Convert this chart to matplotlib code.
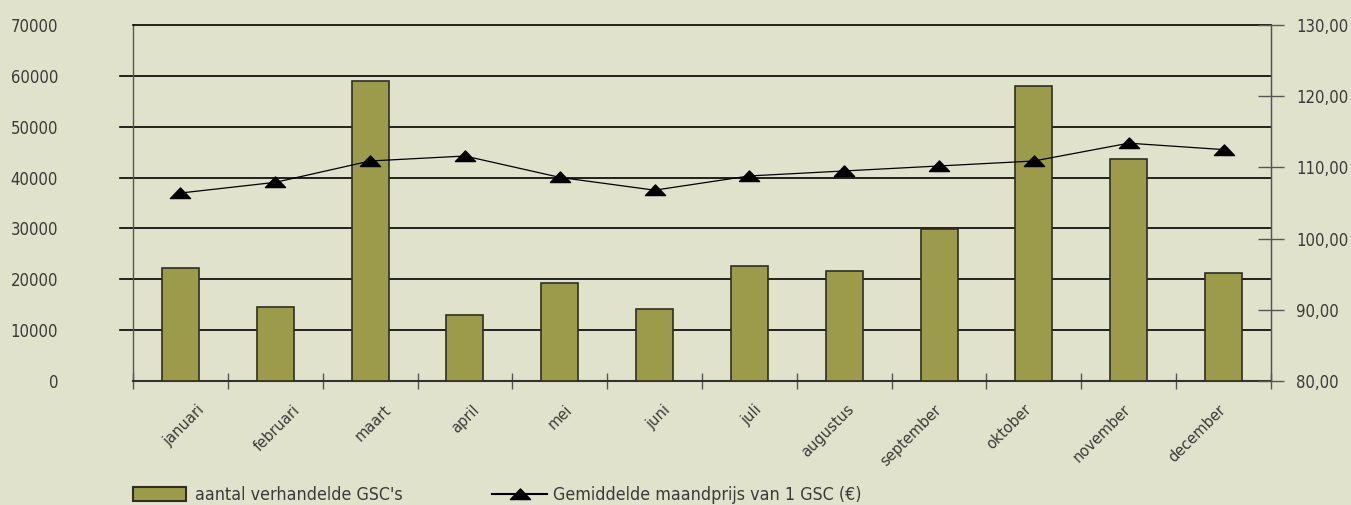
import matplotlib
matplotlib.use('Agg')
import matplotlib.pyplot as plt
import numpy as np
from matplotlib.path import Path
from matplotlib.patches import Patch
from matplotlib.lines import Line2D
from matplotlib.transforms import ScaledTranslation

months = ['januari', 'februari', 'maart', 'april', 'mei', 'juni', 'juli',
          'augustus', 'september', 'oktober', 'november', 'december']
volumes = [22300, 14500, 58900, 13000, 19300, 14150, 22600, 21600, 29800, 58100, 43600, 21300]
prices = [106.4, 107.9, 110.9, 111.6, 108.6, 106.8, 108.8, 109.5, 110.2, 110.9, 113.4, 112.5]
left_ticks = [0, 10000, 20000, 30000, 40000, 50000, 60000, 70000]
right_ticks = [80, 90, 100, 110, 120, 130]
right_labels = ['80,00', '90,00', '100,00', '110,00', '120,00', '130,00']
bar_label = "aantal verhandelde GSC's"
line_label = "Gemiddelde maandprijs van 1 GSC (€)"

# horizontal shift (px) of each month label's end relative to its slot centre (layout)
label_dx = [16, 17, 13, 7, 5, 8, 5, 2, -5, -10, -6, -6]

BG = '#e1e2cc'
TXT = '#3a3a3a'
BAR = '#9c9b4b'
EDGE = '#2e2e24'

plt.rcParams['font.family'] = ['Liberation Sans Narrow', 'DejaVu Sans']
plt.rcParams['font.stretch'] = 'condensed'

W, H = 1351, 505
fig = plt.figure(figsize=(W / 100, H / 100), dpi=100, facecolor=BG)
x0, x1, ytop, ybot = 133, 1271, 25, 381
ax = fig.add_axes([x0 / W, 1 - ybot / H, (x1 - x0) / W, (ybot - ytop) / H])
ax.set_facecolor(BG)

x = np.arange(len(months))
ax.bar(x, volumes, width=0.39, color=BAR, edgecolor=EDGE, linewidth=1.2, zorder=3)
ax.set_xlim(-0.5, len(months) - 0.5)
ax.set_ylim(left_ticks[0], left_ticks[-1])

# gridlines extending left of the spine
for v in left_ticks[1:-1]:
    ax.axhline(v, xmin=-13 / (x1 - x0), xmax=1, color='black', lw=1.2,
               clip_on=False, zorder=1)

ax.set_yticks(left_ticks)
ax.set_yticklabels([str(v) for v in left_ticks])
ax.tick_params(axis='y', length=0, pad=54, labelsize=12, labelcolor=TXT)

# x ticks: marks at boundaries, labels at centres
ax.set_xticks(np.arange(-0.5, len(months), 1.0))
ax.set_xticklabels([])
ax.tick_params(axis='x', which='major', direction='inout', length=11,
               color='#555555', width=1)
ax.set_xticks(x, months, minor=True)
ax.tick_params(axis='x', which='minor', length=0, pad=15.1, labelsize=10.5,
               labelcolor=TXT)
for lab, dx in zip(ax.get_xticklabels(minor=True), label_dx):
    lab.set_family('DejaVu Sans')
    lab.set_stretch('normal')
    lab.set_rotation(45)
    lab.set_ha('right')
    lab.set_va('top')
    lab.set_rotation_mode('anchor')
    lab.set_transform(lab.get_transform() + ScaledTranslation(dx / 100, 0, fig.dpi_scale_trans))

for s in ['left', 'right']:
    ax.spines[s].set_color('#555555')
    ax.spines[s].set_linewidth(1)
ax.spines['top'].set_color('black')
ax.spines['top'].set_linewidth(1.2)
ax.spines['bottom'].set_color('#333333')
ax.spines['bottom'].set_linewidth(1.5)

ax2 = ax.twinx()
tri = Path([(-1, -0.5), (1, -0.5), (0, 0.55), (-1, -0.5)],
           [Path.MOVETO, Path.LINETO, Path.LINETO, Path.CLOSEPOLY])
ax2.plot(x, prices, color='black', lw=0.9, marker=tri, markersize=14.5,
         markerfacecolor='black', markeredgecolor='black', zorder=5)
ax2.set_ylim(right_ticks[0], right_ticks[-1])
ax2.set_yticks(right_ticks)
ax2.set_yticklabels(right_labels)
ax2.tick_params(axis='y', direction='inout', length=19.4, width=1, color='#555555',
                pad=8.6, labelsize=12, labelcolor=TXT)
for s in ['left', 'top', 'bottom']:
    ax2.spines[s].set_visible(False)
ax2.spines['right'].set_color('#555555')

# legends
h1 = Patch(facecolor=BAR, edgecolor=EDGE, linewidth=1.5)
h2 = Line2D([], [], color='black', lw=1.5, marker=tri, markersize=14.5)
fs = 12.8
fpx = fs * 100 / 72
fig.legend(handles=[h1], labels=[bar_label], loc='center left',
           bbox_to_anchor=(133 / W, 1 - 495 / H), frameon=False, borderpad=0,
           borderaxespad=0, handlelength=53 / fpx, handleheight=14 / fpx,
           handletextpad=9 / fpx, fontsize=fs, labelcolor=TXT)
fig.legend(handles=[h2], labels=[line_label], loc='center left',
           bbox_to_anchor=(492 / W, 1 - 495 / H), frameon=False, borderpad=0,
           borderaxespad=0, handlelength=55 / fpx,
           handletextpad=6 / fpx, fontsize=fs, labelcolor=TXT)

fig.savefig('out.png', dpi=100, facecolor=BG)
